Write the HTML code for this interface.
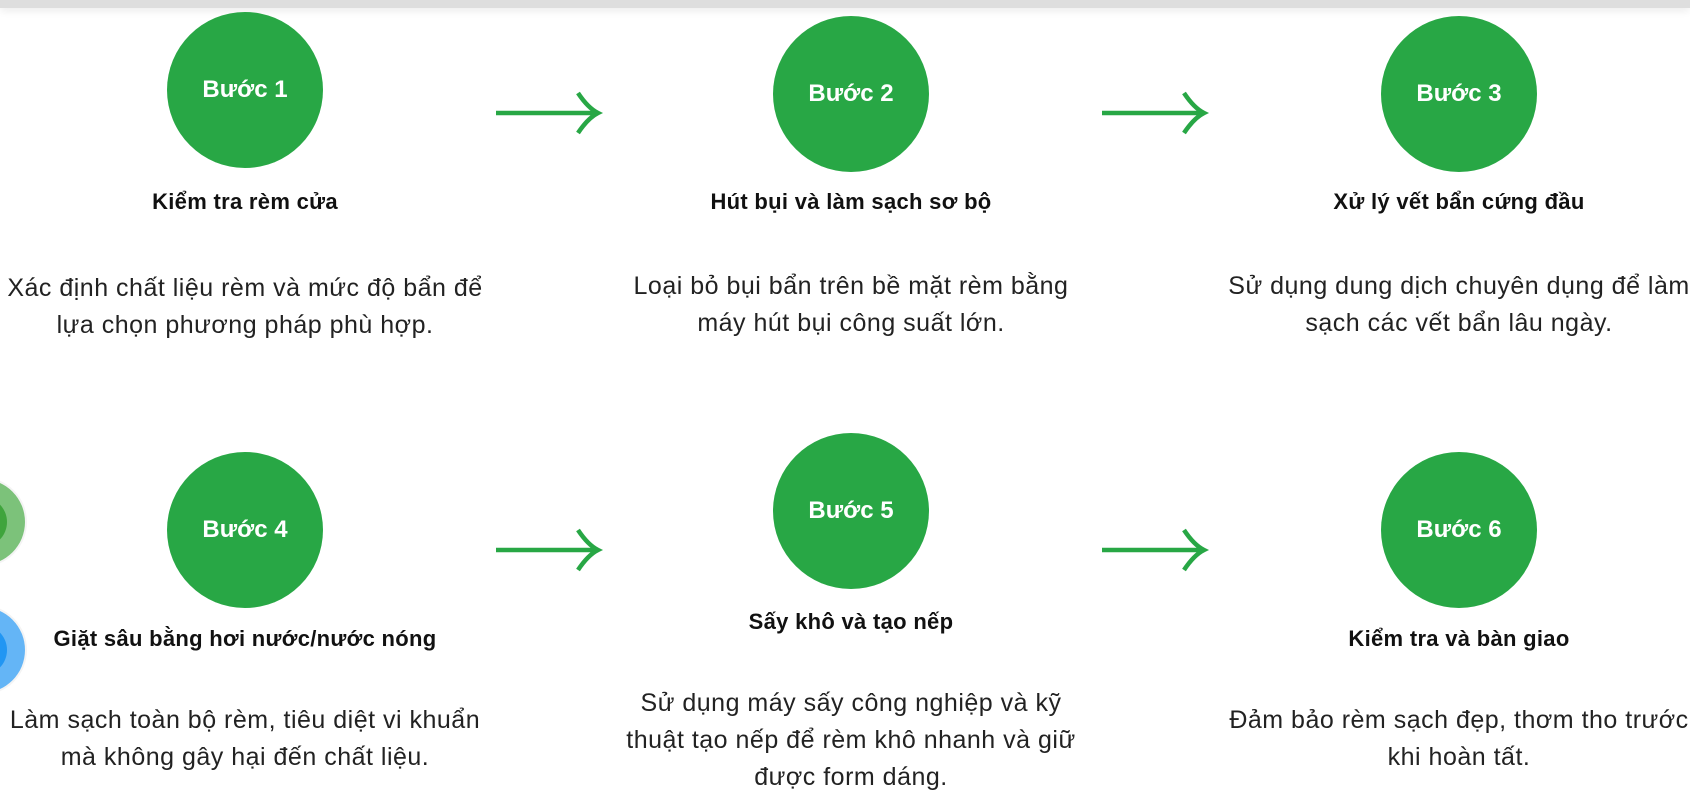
<!DOCTYPE html>
<html><head><meta charset="utf-8"><style>
html,body{margin:0;padding:0;}
body{width:1690px;height:787px;position:relative;overflow:hidden;background:#fff;font-family:"Liberation Sans",Arial,sans-serif;}
.top{position:absolute;left:0;top:0;width:1690px;height:8px;background:#dedede;box-shadow:0 3px 8px rgba(0,0,0,0.08);}
.c{position:absolute;width:156px;height:156px;border-radius:50%;background:#28a745;color:#fff;font-weight:bold;font-size:24px;display:flex;align-items:center;justify-content:center;}
.t{position:absolute;width:560px;text-align:center;font-weight:bold;font-size:22px;letter-spacing:0.3px;color:#111;line-height:24px;}
.d{position:absolute;width:620px;text-align:center;font-size:25px;letter-spacing:0.5px;color:#222;line-height:37px;}
.a{position:absolute;}
.dot{position:absolute;border-radius:50%;}
</style></head><body>
<div class="top"></div>

<div class="dot" style="left:-63px;top:477px;width:90px;height:90px;background:#f4f4f4"></div>
<div class="dot" style="left:-61px;top:479px;width:86px;height:86px;background:#7cc27a"></div>
<div class="dot" style="left:-43px;top:497px;width:50px;height:50px;background:#3fa43c"></div>
<div class="dot" style="left:-63px;top:605px;width:90px;height:90px;background:#f4f4f4"></div>
<div class="dot" style="left:-61px;top:607px;width:86px;height:86px;background:#64b5f6"></div>
<div class="dot" style="left:-43px;top:625px;width:50px;height:50px;background:#2196f3"></div>

<div class="c" style="left:167px;top:12px">Bước 1</div>
<div class="c" style="left:773px;top:16px">Bước 2</div>
<div class="c" style="left:1381px;top:16px">Bước 3</div>
<div class="c" style="left:167px;top:452px">Bước 4</div>
<div class="c" style="left:773px;top:433px">Bước 5</div>
<div class="c" style="left:1381px;top:452px">Bước 6</div>

<svg class="a" style="left:490px;top:90px" width="120" height="50"><path d="M6 23H106M88 3Q98 18 108 23Q98 28 88 43" fill="none" stroke="#28a745" stroke-width="4.5"/></svg>
<svg class="a" style="left:1096px;top:90px" width="120" height="50"><path d="M6 23H106M88 3Q98 18 108 23Q98 28 88 43" fill="none" stroke="#28a745" stroke-width="4.5"/></svg>
<svg class="a" style="left:490px;top:527px" width="120" height="50"><path d="M6 23H106M88 3Q98 18 108 23Q98 28 88 43" fill="none" stroke="#28a745" stroke-width="4.5"/></svg>
<svg class="a" style="left:1096px;top:527px" width="120" height="50"><path d="M6 23H106M88 3Q98 18 108 23Q98 28 88 43" fill="none" stroke="#28a745" stroke-width="4.5"/></svg>

<div class="t" style="left:-35px;top:190px">Kiểm tra rèm cửa</div>
<div class="t" style="left:571px;top:190px">Hút bụi và làm sạch sơ bộ</div>
<div class="t" style="left:1179px;top:190px">Xử lý vết bẩn cứng đầu</div>
<div class="t" style="left:-35px;top:627px">Giặt sâu bằng hơi nước/nước nóng</div>
<div class="t" style="left:571px;top:610px">Sấy khô và tạo nếp</div>
<div class="t" style="left:1179px;top:627px">Kiểm tra và bàn giao</div>

<div class="d" style="left:-65px;top:270px">Xác định chất liệu rèm và mức độ bẩn để<br>lựa chọn phương pháp phù hợp.</div>
<div class="d" style="left:541px;top:268px">Loại bỏ bụi bẩn trên bề mặt rèm bằng<br>máy hút bụi công suất lớn.</div>
<div class="d" style="left:1149px;top:268px">Sử dụng dung dịch chuyên dụng để làm<br>sạch các vết bẩn lâu ngày.</div>
<div class="d" style="left:-65px;top:702px">Làm sạch toàn bộ rèm, tiêu diệt vi khuẩn<br>mà không gây hại đến chất liệu.</div>
<div class="d" style="left:541px;top:685px">Sử dụng máy sấy công nghiệp và kỹ<br>thuật tạo nếp để rèm khô nhanh và giữ<br>được form dáng.</div>
<div class="d" style="left:1149px;top:702px">Đảm bảo rèm sạch đẹp, thơm tho trước<br>khi hoàn tất.</div>
</body></html>
